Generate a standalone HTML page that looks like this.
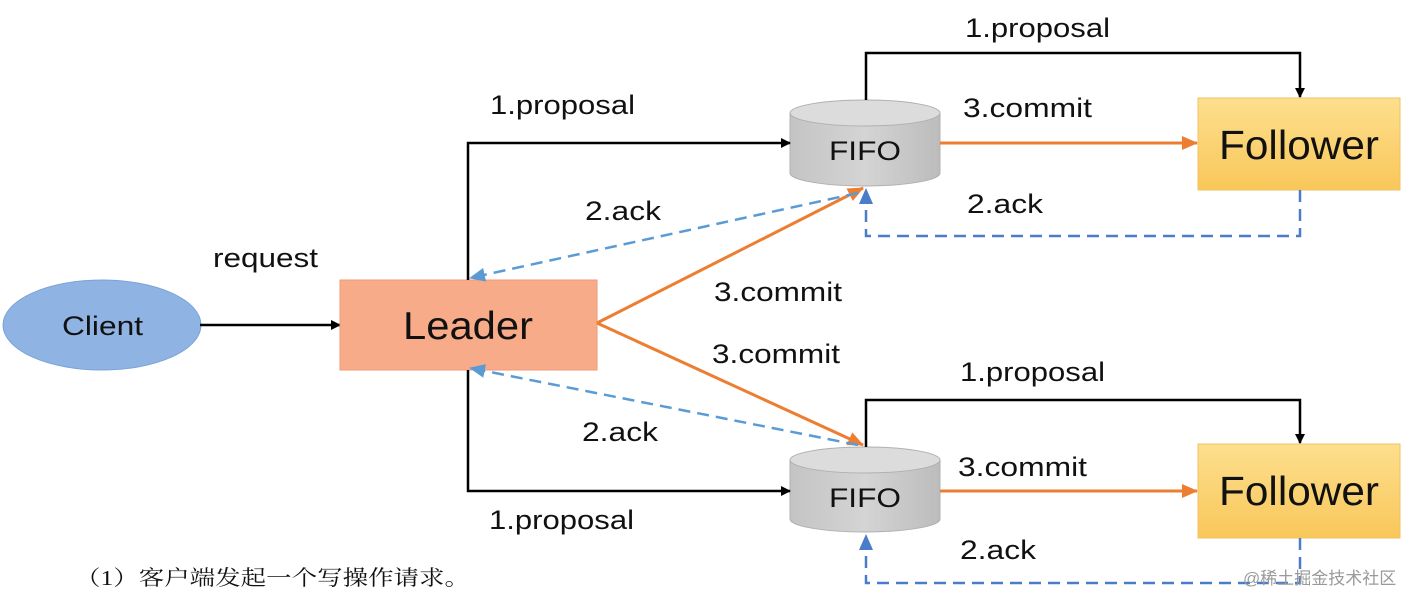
<!DOCTYPE html>
<html><head><meta charset="utf-8"><style>
html,body{margin:0;padding:0;background:#fff;}
svg{display:block;}
text{font-family:"Liberation Sans",Arial,sans-serif;fill:#111;}
</style></head><body>
<svg width="1410" height="594" viewBox="0 0 1410 594" xmlns="http://www.w3.org/2000/svg">
<defs>
<marker id="ab" markerWidth="10" markerHeight="10" refX="9" refY="5" orient="auto" markerUnits="userSpaceOnUse"><path d="M0,0 L10,5 L0,10 z" fill="#000"/></marker>
<marker id="ao" markerWidth="16" markerHeight="14" refX="15" refY="7" orient="auto" markerUnits="userSpaceOnUse"><path d="M0,0 L16,7 L0,14 z" fill="#ed7d31"/></marker>
<marker id="au" markerWidth="16" markerHeight="14" refX="15" refY="7" orient="auto" markerUnits="userSpaceOnUse"><path d="M0,0 L16,7 L0,14 z" fill="#4a7cc7"/></marker>
<marker id="al" markerWidth="16" markerHeight="14" refX="15" refY="7" orient="auto" markerUnits="userSpaceOnUse"><path d="M0,0 L16,7 L0,14 z" fill="#5b9bd5"/></marker>
<linearGradient id="fol" x1="0" y1="0" x2="0" y2="1"><stop offset="0" stop-color="#fddf8e"/><stop offset="1" stop-color="#f9c75a"/></linearGradient>
<linearGradient id="cyl" x1="0" y1="0" x2="1" y2="0"><stop offset="0" stop-color="#c4c4c4"/><stop offset="0.5" stop-color="#d4d4d4"/><stop offset="1" stop-color="#bcbcbc"/></linearGradient>
</defs>

<ellipse cx="102" cy="325" rx="99" ry="45" fill="#8fb4e3" stroke="#7aa3d8"/>
<text x="62" y="335" font-size="27" textLength="81" lengthAdjust="spacingAndGlyphs">Client</text>
<line x1="200" y1="325" x2="340" y2="325" stroke="#000" stroke-width="2.5" marker-end="url(#ab)"/>
<text x="213" y="267" font-size="27" textLength="105" lengthAdjust="spacingAndGlyphs">request</text>

<rect x="340" y="280" width="257" height="90" fill="#f8ab88" stroke="#f29a74"/>
<text x="403" y="339" font-size="39" textLength="130" lengthAdjust="spacingAndGlyphs">Leader</text>

<path d="M790,113 L790,173 A75,13 0 0 0 940,173 L940,113 Z" fill="url(#cyl)" stroke="#b0b0b0"/>
<ellipse cx="865" cy="113" rx="75" ry="13" fill="#dcdcdc" stroke="#b0b0b0"/>
<text x="829" y="160" font-size="27" textLength="72" lengthAdjust="spacingAndGlyphs">FIFO</text>
<path d="M790,460 L790,519 A75,13 0 0 0 940,519 L940,460 Z" fill="url(#cyl)" stroke="#b0b0b0"/>
<ellipse cx="865" cy="460" rx="75" ry="13" fill="#dcdcdc" stroke="#b0b0b0"/>
<text x="829" y="507" font-size="27" textLength="72" lengthAdjust="spacingAndGlyphs">FIFO</text>

<rect x="1198" y="98" width="202" height="92" fill="url(#fol)" stroke="#f2c060"/>
<text x="1219" y="159" font-size="41" textLength="160" lengthAdjust="spacingAndGlyphs">Follower</text>
<rect x="1198" y="444" width="202" height="94" fill="url(#fol)" stroke="#f2c060"/>
<text x="1219" y="505" font-size="41" textLength="160" lengthAdjust="spacingAndGlyphs">Follower</text>

<polyline points="468,280 468,143 790,143" fill="none" stroke="#000" stroke-width="2.5" marker-end="url(#ab)"/>
<polyline points="468,370 468,491 790,491" fill="none" stroke="#000" stroke-width="2.5" marker-end="url(#ab)"/>
<polyline points="866,100 866,53 1300,53 1300,97" fill="none" stroke="#000" stroke-width="2.5" marker-end="url(#ab)"/>
<polyline points="866,447 866,400 1300,400 1300,443" fill="none" stroke="#000" stroke-width="2.5" marker-end="url(#ab)"/>
<text x="490" y="114" font-size="27" textLength="145" lengthAdjust="spacingAndGlyphs">1.proposal</text>
<text x="965" y="37" font-size="27" textLength="145" lengthAdjust="spacingAndGlyphs">1.proposal</text>
<text x="960" y="381" font-size="27" textLength="145" lengthAdjust="spacingAndGlyphs">1.proposal</text>
<text x="489" y="529" font-size="27" textLength="145" lengthAdjust="spacingAndGlyphs">1.proposal</text>

<line x1="940" y1="143" x2="1197" y2="143" stroke="#ed7d31" stroke-width="3" marker-end="url(#ao)"/>
<line x1="940" y1="491" x2="1197" y2="491" stroke="#ed7d31" stroke-width="3" marker-end="url(#ao)"/>
<line x1="597" y1="323" x2="863" y2="188" stroke="#ed7d31" stroke-width="3" marker-end="url(#ao)"/>
<line x1="597" y1="323" x2="863" y2="445" stroke="#ed7d31" stroke-width="3" marker-end="url(#ao)"/>
<text x="963" y="117" font-size="27" textLength="129" lengthAdjust="spacingAndGlyphs">3.commit</text>
<text x="958" y="476" font-size="27" textLength="129" lengthAdjust="spacingAndGlyphs">3.commit</text>
<text x="714" y="301" font-size="27" textLength="128" lengthAdjust="spacingAndGlyphs">3.commit</text>
<text x="712" y="363" font-size="27" textLength="128" lengthAdjust="spacingAndGlyphs">3.commit</text>

<polyline points="1300,190 1300,236 866,236 866,189" fill="none" stroke="#4a7cc7" stroke-width="2.5" stroke-dasharray="12,7" marker-end="url(#au)"/>
<polyline points="1300,538 1300,583 866,583 866,535" fill="none" stroke="#4a7cc7" stroke-width="2.5" stroke-dasharray="12,7" marker-end="url(#au)"/>
<line x1="858" y1="193" x2="470" y2="278" stroke="#5b9bd5" stroke-width="2.5" stroke-dasharray="12,7" marker-end="url(#al)"/>
<line x1="858" y1="445" x2="470" y2="368" stroke="#5b9bd5" stroke-width="2.5" stroke-dasharray="12,7" marker-end="url(#al)"/>
<text x="967" y="213" font-size="27" textLength="76" lengthAdjust="spacingAndGlyphs">2.ack</text>
<text x="960" y="559" font-size="27" textLength="76" lengthAdjust="spacingAndGlyphs">2.ack</text>
<text x="585" y="220" font-size="27" textLength="76" lengthAdjust="spacingAndGlyphs">2.ack</text>
<text x="582" y="441" font-size="27" textLength="76" lengthAdjust="spacingAndGlyphs">2.ack</text>

<text x="75" y="585" font-size="21" textLength="395" lengthAdjust="spacingAndGlyphs" style="font-family:'Liberation Serif','Noto Serif CJK SC',serif;">（1）客户端发起一个写操作请求。</text>
<text x="1243" y="584" font-size="17" style="font-family:'Liberation Sans','Noto Sans CJK SC',sans-serif;fill:#9a9a9a;">@稀土掘金技术社区</text>
</svg>
</body></html>
